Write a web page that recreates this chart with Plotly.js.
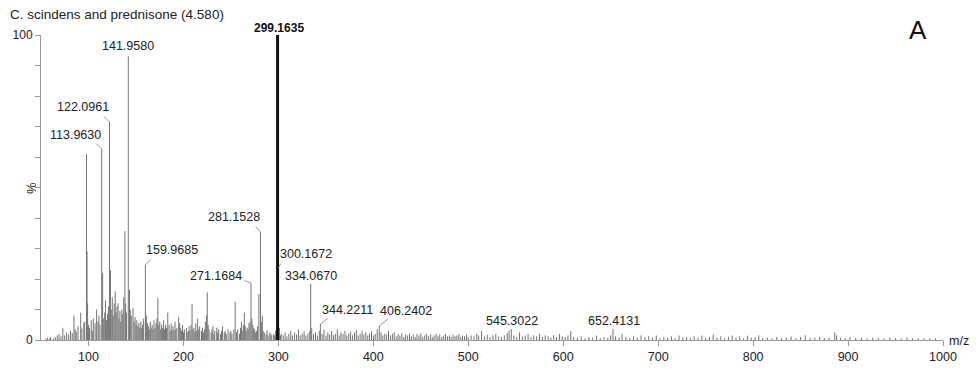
<!DOCTYPE html>
<html><head><meta charset="utf-8">
<script src="https://cdn.plot.ly/plotly-3.0.1.min.js"></script>
<style>body{margin:0;background:#fff}#c{width:977px;height:369px}</style>
</head><body><div id="c"></div>
<script>
// ---- data ----
const chartTitle = "C. scindens and prednisone (4.580)";
const panelLetter = "A";
const xTickVals = [100,200,300,400,500,600,700,800,900,1000];
const yTickVals = [0,10,20,30,40,50,60,70,80,90,100];
const yTickText = ["0","","","","","","","","","","100"];

const basePeakMz = 299.1635;
const basePeakInt = 100;

const peakMz = [
55.1,57.0,59.1,60.0,63.0,65.1,67.1,69.0,71.1,73.0,75.0,77.0,79.1,81.1,82.9,84.7,86.0,87.1,89.0,91.8,93.1,95.1,96.0,97.9,98.5,99.1,
100.1,101.1,102.9,104.0,105.1,107.0,108.6,110.1,111.0,112.1,113.963,114.9,116.0,117.1,118.0,119.1,120.0,121.0,122.0961,123.1,124.0,125.1,126.0,127.1,128.2,129.0,130.1,131.1,132.0,133.1,134.0,135.1,136.1,137.1,138.4,139.1,140.0,141.958,143.2,144.0,145.1,146.9,148.0,149.1,
150.1,151.0,152.1,153.1,154.0,155.1,156.1,157.0,158.1,159.9685,161.0,162.1,163.1,164.0,165.1,166.0,167.1,168.1,169.0,170.1,171.1,172.1,173.1,174.0,175.1,176.1,177.0,178.1,179.1,180.0,181.1,182.1,183.5,184.9,186.0,187.1,188.0,189.1,190.0,191.1,192.0,193.1,195.0,196.1,197.1,198.0,199.1,
200.1,201.0,203.1,204.0,205.1,206.0,207.1,208.0,209.1,210.0,211.1,212.1,213.0,214.1,215.0,216.1,217.1,219.0,220.1,221.0,222.1,223.1,224.2,225.1,226.1,227.0,229.1,230.0,231.1,232.1,233.0,235.1,236.0,237.1,239.0,240.1,241.1,243.0,244.1,245.1,247.0,249.1,
250.0,251.1,253.1,254.5,256.0,257.1,259.0,260.1,261.1,262.0,263.1,264.2,265.1,266.0,267.1,268.1,269.1,270.1,271.1684,272.1,273.1,274.0,275.1,276.1,277.1,278.1,279.5,281.1528,282.1,283.1,284.0,285.1,287.0,288.1,289.1,291.0,292.1,293.1,295.1,296.0,297.1,298.1,300.1672,301.1,302.1,
303.0,305.1,307.1,309.0,311.1,313.1,315.0,317.1,319.1,321.1,323.0,325.1,327.1,329.0,331.1,333.1,334.067,335.1,337.0,339.1,341.1,343.1,344.2211,346.1,348.0,350.1,352.1,354.0,356.1,358.1,360.0,362.1,364.1,366.0,368.1,370.1,372.0,374.1,376.1,378.0,380.1,382.1,384.0,386.1,388.1,390.0,392.1,394.1,396.0,398.1,
400.1,402.0,404.1,406.2402,408.1,410.0,412.1,414.1,416.0,418.1,420.1,422.0,424.1,426.1,428.0,430.1,432.1,434.0,436.1,438.1,440.0,442.1,444.1,446.0,448.1,450.1,452.0,454.1,456.1,458.0,460.1,462.1,464.0,466.1,468.1,470.0,472.1,474.1,476.0,478.1,480.1,482.0,484.1,486.1,488.0,490.1,492.1,494.0,496.1,498.1,500.0,
503,506,509,511,514,517,520,523,526,529,532,535,538,541,543,545.3022,548,551,554,557,560,563,566,569,572,575,578,581,584,587,590,593,596,599,602,605,608,611,615,619,623,627,631,635,639,643,647,650,652.4131,655,659,662,666,670,674,678,682,686,690,694,698,
702,706,710,714,718,722,726,730,734,738,742,746,750,754,758,762,766,770,774,778,782,786,790,794,798,802,806,810,815,820,825,830,835,840,845,850,855,860,865,870,875,880,886,888,892,897,902,908,914,920,926,932,938,944,950,956,962,968,974,980,986,992
];
const peakInt = [
0.5,0.8,0.4,1.0,0.6,0.9,1.5,2.0,1.2,4.0,1.5,2.5,1.8,3.0,2.2,8.0,3.5,2.8,4.5,9.0,3.8,5.5,6.0,61.0,29.0,12.0,
5.0,4.0,6.5,3.0,7.0,5.5,10.0,6.0,8.0,5.0,62.6,22.0,7.0,9.0,13.0,6.5,8.5,11.0,71.5,23.0,10.0,14.0,8.0,12.0,16.0,9.0,11.0,12.0,7.0,9.5,6.0,10.0,8.5,14.0,35.7,12.0,9.0,93.0,16.4,10.0,8.0,10.5,6.0,7.5,
5.0,6.5,4.5,5.5,4.0,6.0,4.0,5.0,7.0,24.6,8.0,5.5,4.5,3.5,6.0,4.0,5.0,3.5,6.5,4.0,5.5,7.0,13.8,5.0,6.0,3.5,5.0,4.0,6.5,3.5,5.0,4.0,9.0,5.0,3.0,5.5,3.5,4.5,3.0,6.0,3.5,4.0,7.5,5.5,4.0,3.0,5.0,
2.5,3.5,4.0,2.5,3.0,4.5,3.0,5.0,11.8,3.5,4.0,2.5,5.5,3.0,7.0,3.5,4.5,3.0,4.0,2.5,3.5,6.0,8.0,15.6,5.0,3.5,2.5,3.5,4.5,2.0,3.0,4.0,2.5,3.5,2.0,3.0,4.5,2.5,3.0,2.0,3.5,2.5,
3.0,2.0,3.5,12.5,2.5,3.5,2.0,4.0,6.0,3.0,5.0,9.0,4.5,3.0,4.0,3.5,5.5,6.0,18.7,7.0,5.0,4.0,3.5,2.5,3.0,4.5,15.0,35.4,6.0,8.0,3.0,2.5,2.0,3.0,1.5,2.5,2.0,1.5,2.0,1.5,3.0,4.0,23.6,4.0,1.5,
2.0,1.5,2.5,1.2,2.0,3.0,1.5,2.5,1.8,3.5,1.5,2.0,2.8,1.5,2.2,3.0,18.4,4.0,2.0,2.5,1.5,3.0,5.2,2.0,3.5,1.5,2.5,1.8,3.0,1.5,2.0,3.5,1.5,2.5,2.0,3.0,1.5,2.0,2.8,1.5,2.5,3.2,1.5,2.0,3.0,1.8,2.5,1.5,2.2,3.0,
1.5,2.0,3.5,4.6,2.5,1.5,2.0,1.8,3.0,1.5,2.0,2.5,1.2,2.0,1.5,2.2,1.0,1.8,1.5,2.0,1.2,1.8,1.0,2.0,1.5,2.2,1.0,1.5,2.0,1.2,1.8,1.0,1.5,2.0,1.2,1.8,1.0,1.5,2.0,1.2,1.5,1.0,1.8,1.2,1.5,2.0,1.0,1.5,1.2,1.8,1.0,
1.5,1.2,2.0,1.5,3.0,1.2,1.8,1.0,1.5,2.0,1.2,1.0,1.5,2.2,3.0,3.6,1.5,1.0,2.5,1.2,1.5,2.0,1.0,1.5,1.2,2.0,1.0,1.5,1.2,0.8,1.5,1.0,2.0,1.2,1.0,1.5,3.0,1.0,0.8,1.2,0.6,1.0,0.8,1.5,0.6,1.0,0.8,1.5,3.6,1.2,0.8,2.0,1.0,0.6,1.2,0.8,1.5,1.0,1.2,0.8,1.5,
0.6,1.0,0.8,1.2,0.6,1.5,0.8,1.0,0.6,1.2,0.8,1.5,0.6,1.0,1.8,0.8,1.2,0.6,1.0,1.5,0.8,1.2,0.6,1.4,0.8,1.0,1.5,0.6,0.8,0.5,1.0,0.6,0.8,1.2,0.6,1.0,1.5,0.6,0.8,1.0,0.6,0.8,2.5,1.5,0.8,0.6,1.0,0.6,0.8,0.5,0.8,0.6,0.5,0.8,0.6,0.5,0.8,0.6,0.5,0.6,0.5,0.6
];

const labelMz = [141.958,122.0961,113.963,159.9685,271.1684,281.1528,300.1672,334.067,344.2211,406.2402,545.3022,652.4131];
const labelText = ["141.9580","122.0961","113.9630","159.9685","271.1684","281.1528","300.1672","334.0670","344.2211","406.2402","545.3022","652.4131"];

// ---- styling: pixel offsets of label text centre / connector tail from the peak top ----
const labelStyle = [
  {tx:0,ty:-10},
  {tx:-26,ty:-15,cx:-7,cy:-7},
  {tx:-26,ty:-14,cx:-7,cy:-7},
  {tx:27,ty:-15,cx:7,cy:-7},
  {tx:-35,ty:-7,cx:-8,cy:-3},
  {tx:-26,ty:-15,cx:-6,cy:-7},
  {tx:27,ty:-14,cx:3,cy:-6},
  {tx:0,ty:-8},
  {tx:27,ty:-14,cx:9,cy:-7},
  {tx:27,ty:-15,cx:10,cy:-8},
  {tx:1,ty:-8},
  {tx:1,ty:-8}
];

const FONT = '"Liberation Sans", Arial, sans-serif';

// stick spectrum
const sx = [], sy = [];
for (let i = 0; i < peakMz.length; i++) { sx.push(peakMz[i], peakMz[i], null); sy.push(0, peakInt[i], null); }

const traces = [
  {x: sx, y: sy, type: 'scatter', mode: 'lines', line: {color: '#737373', width: 1}, hoverinfo: 'skip', showlegend: false},
  {x: [basePeakMz, basePeakMz], y: [0, basePeakInt], type: 'scatter', mode: 'lines', line: {color: '#111', width: 3}, hoverinfo: 'skip', showlegend: false}
];

const ann = [];
labelMz.forEach((m, i) => {
  const v = peakInt[peakMz.indexOf(m)];
  const st = labelStyle[i];
  ann.push({x: m, y: v, xref: 'x', yref: 'y', text: labelText[i], showarrow: false,
    xanchor: 'center', yanchor: 'middle', xshift: st.tx, yshift: -st.ty,
    font: {family: FONT, size: 12.5, color: '#222'}});
  if (st.cx !== undefined) {
    ann.push({x: m, y: v, xref: 'x', yref: 'y', text: '', showarrow: true, arrowhead: 0,
      arrowwidth: 1, arrowcolor: '#999', ax: st.cx, ay: st.cy, standoff: 0, startstandoff: 0});
  }
});
// base peak label (bold)
ann.push({x: basePeakMz, y: basePeakInt, xref: 'x', yref: 'y', text: '<b>' + basePeakMz.toFixed(4) + '</b>',
  showarrow: false, xanchor: 'center', yanchor: 'middle', xshift: 1, yshift: 7,
  font: {family: FONT, size: 12, color: '#111'}});
// panel letter
ann.push({x: 0.9723, y: 1.0164, xref: 'paper', yref: 'paper', text: panelLetter, showarrow: false,
  xanchor: 'center', yanchor: 'middle', font: {family: FONT, size: 26, color: '#111'}});
// m/z
ann.push({x: 1.0044, y: 0.0, xref: 'paper', yref: 'paper', text: 'm/z', showarrow: false,
  xanchor: 'left', yanchor: 'middle', yshift: -1, font: {family: FONT, size: 12.5, color: '#222'}});
// %
ann.push({x: -0.0111, y: 0.498, xref: 'paper', yref: 'paper', text: '%', showarrow: false, textangle: -90,
  xanchor: 'center', yanchor: 'middle', font: {family: FONT, size: 13, color: '#222'}});

const layout = {
  width: 977, height: 369,
  margin: {l: 41, r: 34, t: 35, b: 29, pad: 0},
  paper_bgcolor: '#fff', plot_bgcolor: '#fff',
  title: {text: chartTitle, x: 10/977, xanchor: 'left', xref: 'container', y: 1 - 14/369, yanchor: 'middle', yref: 'container',
    font: {family: FONT, size: 13.5, color: '#222'}},
  xaxis: {range: [50, 1000], showline: true, linecolor: '#999', linewidth: 1, ticks: 'outside', ticklen: 5, tickcolor: '#999',
    tickvals: xTickVals, showgrid: false, zeroline: false, tickfont: {family: FONT, size: 12.5, color: '#222'}},
  yaxis: {range: [0, 100], showline: true, linecolor: '#999', linewidth: 1, ticks: 'outside', ticklen: 5, tickcolor: '#999',
    tickvals: yTickVals, ticktext: yTickText, showgrid: false, zeroline: false, tickfont: {family: FONT, size: 12, color: '#222'}},
  annotations: ann,
  showlegend: false
};

Plotly.newPlot('c', traces, layout, {staticPlot: true, displayModeBar: false});
</script>
</body></html>
